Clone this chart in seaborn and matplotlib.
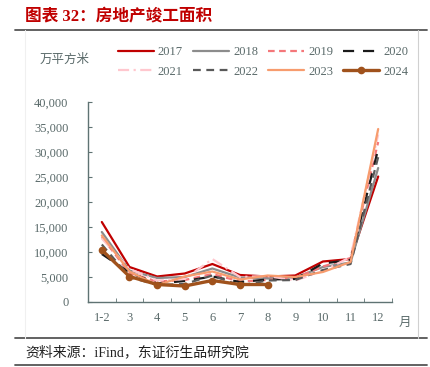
import numpy as np
import pandas as pd
import matplotlib
matplotlib.use('Agg')
import matplotlib.pyplot as plt
from matplotlib.lines import Line2D
import seaborn as sns

months = ['1-2', '3', '4', '5', '6', '7', '8', '9', '10', '11', '12']
y2017 = [16000, 7000, 5100, 5700, 7600, 5400, 5100, 5300, 8100, 8600, 25100]
y2018 = [14000, 6300, 4800, 5000, 6700, 4900, 4700, 4900, 7000, 7900, 26800]
y2019 = [13000, 5800, 4100, 4400, 5600, 4100, 4400, 4800, 7100, 8800, 32000]
y2020 = [9600, 5900, 3700, 4200, 5100, 4000, 4500, 4600, 7700, 8400, 30600]
y2021 = [12700, 6600, 4300, 4600, 8600, 5000, 5200, 4300, 6200, 9000, 33500]
y2022 = [11500, 5000, 3400, 3600, 5300, 3300, 4300, 4400, 6400, 7600, 29000]
y2023 = [13300, 6100, 3400, 5100, 6100, 4500, 5300, 5000, 6000, 8000, 34600]
y2024 = [10400, 5100, 3500, 3200, 4300, 3500, 3500]
years = ['2017', '2018', '2019', '2020', '2021', '2022', '2023', '2024']
series = [y2017, y2018, y2019, y2020, y2021, y2022, y2023, y2024]

styles = {
    '2017': dict(color='#C00000', lw=1.6, ls='-'),
    '2018': dict(color='#8C8C8C', lw=1.6, ls='-'),
    '2019': dict(color='#F4777A', lw=1.6, ls=(0, (3, 2))),
    '2020': dict(color='#1A1A1A', lw=1.6, ls=(0, (5, 4))),
    '2021': dict(color='#FFC7CE', lw=1.6, ls=(0, (5, 2, 1, 2))),
    '2022': dict(color='#595959', lw=1.6, ls=(0, (3.5, 2.5))),
    '2023': dict(color='#F79C6E', lw=1.6, ls='-'),
    '2024': dict(color='#A0521C', lw=2.4, ls='-'),
}

num_font = ['Liberation Serif', 'Noto Sans CJK SC']
cjk_font = ['Noto Sans CJK SC', 'Liberation Serif']
axis_col = '#5F7373'
text_col = '#5A6A6A'

sns.set_style('white')
plt.rcParams['font.family'] = num_font

fig = plt.figure(figsize=(4.31, 3.67), dpi=100)
ax = fig.add_axes([88 / 431, 1 - 302 / 367, 304 / 431, 200 / 367])

for yr, vals in zip(years, series):
    st = styles[yr]
    x = np.arange(len(vals))
    sns.lineplot(x=x, y=vals, ax=ax, color=st['color'], linewidth=st['lw'],
                 linestyle=st['ls'], label=yr,
                 marker='o' if yr == '2024' else None, markersize=5.5,
                 markeredgewidth=0)

ax.set_xlim(-0.5, len(months) - 0.5)
ax.set_ylim(0, 40000)
ax.set_yticks(np.arange(0, 40001, 5000))
ax.set_yticklabels([f'{int(v):,}' for v in np.arange(0, 40001, 5000)])
ax.set_xticks(np.arange(len(months)))
ax.set_xticklabels(months)
ax.set_xticks(np.arange(-0.5, len(months)), minor=True)
ax.tick_params(axis='x', which='major', length=0, pad=7, labelsize=9, labelcolor=text_col)
ax.tick_params(axis='x', which='minor', direction='in', length=3, color=axis_col, bottom=True)
ax.tick_params(axis='y', direction='in', length=3, color=axis_col, left=True, pad=14,
               labelsize=9, labelcolor=text_col)
for s in ['top', 'right']:
    ax.spines[s].set_visible(False)
for s in ['left', 'bottom']:
    ax.spines[s].set_color(axis_col)
    ax.spines[s].set_linewidth(1.0)
ax.set_xlabel('')
ax.set_ylabel('')
ax.legend_.remove()

# legend filled row by row: 2017-2020 on top, 2021-2024 below
handles, labels = ax.get_legend_handles_labels()
order = [0, 4, 1, 5, 2, 6, 3, 7]
fig.legend([handles[i] for i in order], [labels[i] for i in order], ncol=4,
           loc='center', bbox_to_anchor=(0.61, 0.831),
           frameon=False, fontsize=9, handlelength=2.9, handletextpad=0.3,
           columnspacing=0.8, labelspacing=0.6, labelcolor=text_col)

fig.text(25 / 431, 1 - 17 / 367, '图表 32：房地产竣工面积', color='#C00000', fontsize=12,
         fontweight='bold', family=num_font, va='center', ha='left')
fig.text(40 / 431, 1 - 59 / 367, '万平方米', color=text_col, fontsize=9,
         family=cjk_font, va='center', ha='left')
fig.text(405 / 431, 1 - 322 / 367, '月', color=text_col, fontsize=9,
         family=cjk_font, va='center', ha='center')
fig.text(25 / 431, 1 - 352 / 367, '资料来源：iFind，东证衍生品研究院', color='#222222',
         fontsize=10, family=num_font, va='center', ha='left')

fig.add_artist(Line2D([15 / 431, 427 / 431], [1 - 29.5 / 367] * 2, color='#555555', lw=1.3))
fig.add_artist(Line2D([15 / 431, 427 / 431], [1 - 338 / 367] * 2, color='#555555', lw=1.3))
fig.add_artist(Line2D([15 / 431, 427 / 431], [1 - 365 / 367] * 2, color='#555555', lw=1.3))
fig.add_artist(Line2D([418 / 431] * 2, [1 - 30 / 367, 1 - 338 / 367], color='#D0D0D0', lw=0.8))
fig.add_artist(Line2D([25 / 431] * 2, [1 - 30 / 367, 1 - 338 / 367], color='#F0F0F0', lw=0.8))

fig.savefig('out.png', dpi=100)
